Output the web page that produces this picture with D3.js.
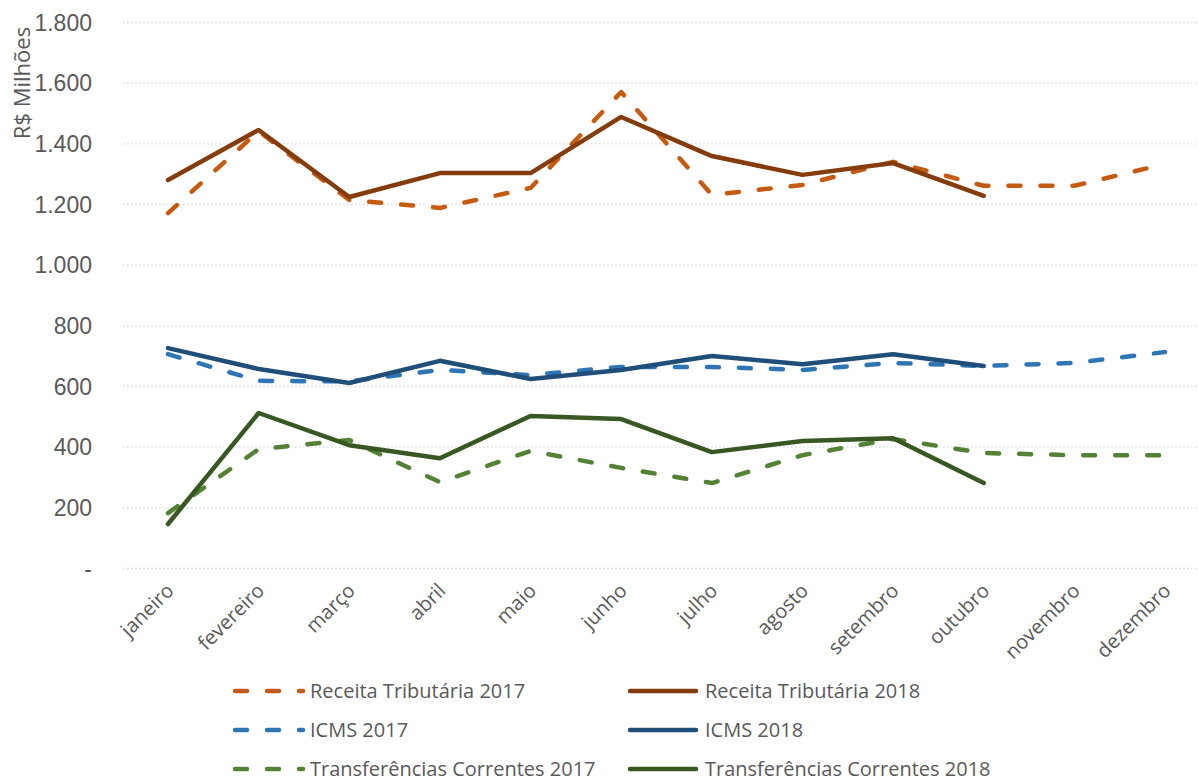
<!DOCTYPE html>
<html>
<head>
<meta charset="utf-8">
<script src="https://cdn.jsdelivr.net/npm/d3@7"></script>
<style>
  body { margin: 0; background: #fff; }
  svg { font-family: "Open Sans", "Noto Sans", sans-serif; }
</style>
</head>
<body>
<svg id="chart"></svg>
<script>
// months (categories)
var months = ["janeiro", "fevereiro", "março", "abril", "maio", "junho",
  "julho", "agosto", "setembro", "outubro", "novembro", "dezembro"];

// series values, R$ milhões
var receita2017 = [1170, 1440, 1213, 1187, 1253, 1569, 1230, 1263, 1339, 1260, 1260, 1332];
var receita2018 = [1279, 1444, 1223, 1302, 1302, 1487, 1358, 1296, 1335, 1227];
var icms2017 = [705, 617, 615, 653, 636, 663, 663, 653, 676, 666, 676, 712];
var icms2018 = [725, 656, 610, 683, 623, 653, 699, 672, 705, 666];
var transf2017 = [181, 392, 422, 283, 386, 330, 280, 372, 425, 379, 372, 372];
var transf2018 = [145, 511, 405, 362, 501, 491, 382, 419, 428, 280];

var yTicks = [0, 200, 400, 600, 800, 1000, 1200, 1400, 1600, 1800];

var series = [
  { name: "Receita Tributária 2017", values: receita2017, color: "#C55A11", dashed: true },
  { name: "Receita Tributária 2018", values: receita2018, color: "#843C0C", dashed: false },
  { name: "ICMS 2017", values: icms2017, color: "#2E75B6", dashed: true },
  { name: "ICMS 2018", values: icms2018, color: "#1F4E79", dashed: false },
  { name: "Transferências Correntes 2017", values: transf2017, color: "#548235", dashed: true },
  { name: "Transferências Correntes 2018", values: transf2018, color: "#385723", dashed: false }
];

var width = 1198, height = 782;
var svg = d3.select("#chart").attr("width", width).attr("height", height);

var x = d3.scalePoint().domain(months).range([168, 1165]);
var y = d3.scaleLinear().domain([0, 1800]).range([568, 22]);

var br = d3.formatLocale({ decimal: ",", thousands: ".", grouping: [3], currency: ["R$", ""] });
var fmt = br.format(",.0f");

// gridlines + y labels
var yAxis = svg.append("g")
  .attr("transform", "translate(123,0)")
  .call(d3.axisLeft(y).tickValues(yTicks).tickSize(-1075).tickPadding(31)
    .tickFormat(function(d) { return d === 0 ? "-" : fmt(d); }));
yAxis.select(".domain").remove();
yAxis.selectAll(".tick line")
  .attr("stroke", "#d9d9d9")
  .attr("stroke-width", 1.3)
  .attr("stroke-dasharray", "1.5,2.5");
yAxis.selectAll(".tick text")
  .attr("fill", "#595959")
  .style("font-size", "23px")
  .attr("dy", "0.35em");

// y title
svg.append("text")
  .attr("transform", "translate(30,83) rotate(-90)")
  .style("text-anchor", "middle")
  .style("font-size", "22px")
  .attr("fill", "#595959")
  .text("R$ Milhões");

// x labels
svg.append("g").selectAll("text")
  .data(months)
  .enter()
  .append("text")
  .attr("transform", function(d) {
    return "translate(" + (x(d) + 7) + ",592) rotate(-45)";
  })
  .style("text-anchor", "end")
  .style("font-size", "20px")
  .attr("fill", "#595959")
  .text(function(d) { return d; });

// lines
var line = d3.line()
  .x(function(d, i) { return x(months[i]); })
  .y(function(d) { return y(d); });

svg.append("g").selectAll("path")
  .data(series)
  .enter()
  .append("path")
  .attr("d", function(d) { return line(d.values); })
  .attr("fill", "none")
  .attr("stroke", function(d) { return d.color; })
  .attr("stroke-width", 4.5)
  .attr("stroke-linejoin", "round")
  .attr("stroke-linecap", "round")
  .attr("stroke-dasharray", function(d) { return d.dashed ? "12,20" : null; });

// legend
var legend = svg.append("g");
series.forEach(function(s, i) {
  var col = i % 2, row = Math.floor(i / 2);
  var lx = col === 0 ? 235 : 630;
  var ly = 691 + row * 39;
  var g = legend.append("g").attr("transform", "translate(" + lx + "," + ly + ")");
  if (s.dashed) {
    g.append("line").attr("x1", 0).attr("x2", 68).attr("y1", 0).attr("y2", 0)
      .attr("stroke", s.color).attr("stroke-width", 4.5)
      .attr("stroke-linecap", "round")
      .attr("stroke-dasharray", "12,20");
  } else {
    g.append("line").attr("x1", 0).attr("x2", 66).attr("y1", 0).attr("y2", 0)
      .attr("stroke", s.color).attr("stroke-width", 4.5)
      .attr("stroke-linecap", "round");
  }
  g.append("text")
    .attr("x", 75)
    .attr("y", 0)
    .attr("dy", "0.35em")
    .style("font-size", "20px")
    .attr("fill", "#595959")
    .text(s.name);
});
</script>
</body>
</html>
